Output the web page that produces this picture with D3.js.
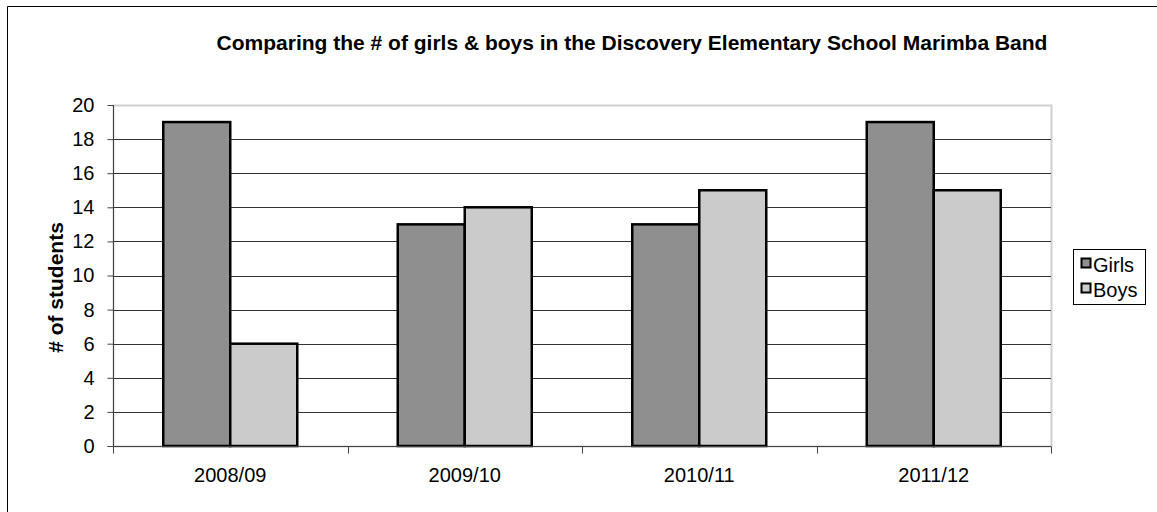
<!DOCTYPE html>
<html>
<head>
<meta charset="utf-8">
<script src="https://cdn.jsdelivr.net/npm/d3@7"></script>
<style>
  html, body { margin: 0; padding: 0; background: #fff; }
  svg { display: block; font-family: "Liberation Sans", Arial, sans-serif; }
</style>
</head>
<body>
<svg id="chart" width="1157" height="512"></svg>
<script>
// Marimba band membership by school year
const years = ["2008/09", "2009/10", "2010/11", "2011/12"];
const seriesNames = ["Girls", "Boys"];
const girls = [19, 13, 13, 19];
const boys = [6, 14, 15, 15];
const yTicks = [0, 2, 4, 6, 8, 10, 12, 14, 16, 18, 20];
const titleText = "Comparing the # of girls & boys in the Discovery Elementary School Marimba Band";
const yLabelText = "# of students";

const colors = { Girls: "#8f8f8f", Boys: "#cbcbcb" };
const valuesBySeries = { Girls: girls, Boys: boys };

const FONT = "'Liberation Sans', Arial, sans-serif";
const svg = d3.select("#chart");
const W = 1157, H = 512;
const plot = { left: 113, top: 105, right: 1051, bottom: 446 };

// chart frame: top and left edges only
svg.append("line").attr("x1", 7.5).attr("x2", W).attr("y1", 6.5).attr("y2", 6.5)
  .attr("stroke", "#000").attr("stroke-width", 1);
svg.append("line").attr("x1", 7.5).attr("x2", 7.5).attr("y1", 6.5).attr("y2", H)
  .attr("stroke", "#000").attr("stroke-width", 1);

const x = d3.scaleBand().domain(years).range([plot.left, plot.right]).paddingInner(0).paddingOuter(0);
const xInner = d3.scaleBand().domain(seriesNames).range([0, x.bandwidth()]).paddingOuter(0.75).paddingInner(0);
const y = d3.scaleLinear().domain([0, 20]).range([plot.bottom, plot.top]);

// plot area outline (light gray)
svg.append("rect")
  .attr("x", plot.left + 0.5).attr("y", plot.top + 0.5)
  .attr("width", plot.right - plot.left).attr("height", plot.bottom - plot.top)
  .attr("fill", "none").attr("stroke", "#cfcfcf").attr("stroke-width", 2);

// horizontal gridlines
svg.append("g").selectAll("line")
  .data(yTicks.filter(t => t > 0 && t < 20))
  .join("line")
  .attr("x1", plot.left).attr("x2", plot.right)
  .attr("y1", d => Math.round(y(d)) + 0.5).attr("y2", d => Math.round(y(d)) + 0.5)
  .attr("stroke", "#333").attr("stroke-width", 1);

// bars
const groups = svg.append("g").selectAll("g")
  .data(years)
  .join("g")
  .attr("transform", d => `translate(${x(d)},0)`);

groups.selectAll("rect")
  .data((d, i) => seriesNames.map(s => ({ s, v: valuesBySeries[s][i] })))
  .join("rect")
  .attr("x", d => xInner(d.s))
  .attr("y", d => y(d.v))
  .attr("width", xInner.bandwidth())
  .attr("height", d => plot.bottom - y(d.v))
  .attr("fill", d => colors[d.s])
  .attr("stroke", "#000")
  .attr("stroke-width", 2.5);

// y axis
const yAxis = d3.axisLeft(y).tickValues(yTicks).tickSize(6).tickPadding(13).tickFormat(d3.format("d"));
const yg = svg.append("g").attr("transform", `translate(${plot.left + 0.5},0)`).call(yAxis);
yg.select(".domain").attr("stroke", "#444").attr("d", `M-6,${plot.bottom + 0.5}H0V${plot.top}`);
yg.selectAll(".tick line").attr("stroke", "#444");
yg.selectAll(".tick text").attr("font-size", 20).attr("fill", "#000").attr("font-family", FONT);

// x axis
const xAxis = d3.axisBottom(x).tickSize(0).tickPadding(21);
const xg = svg.append("g").attr("transform", `translate(0,${plot.bottom + 0.5})`).call(xAxis);
xg.select(".domain").attr("stroke", "#444").attr("d", `M${plot.left},0H${plot.right}`);
xg.selectAll(".tick text").attr("font-size", 20).attr("fill", "#000").attr("font-family", FONT);
// tick marks between categories
const boundaries = years.map(d => x(d)).concat([plot.right]);
xg.append("g").selectAll("line").data(boundaries).join("line")
  .attr("x1", d => Math.round(d) + 0.5).attr("x2", d => Math.round(d) + 0.5)
  .attr("y1", 0).attr("y2", 7).attr("stroke", "#444");

// title
svg.append("text")
  .attr("x", 632).attr("y", 50)
  .attr("text-anchor", "middle")
  .attr("font-size", 21).attr("font-weight", "bold")
  .text(titleText);

// y axis label
svg.append("text")
  .attr("transform", `translate(63,${(plot.top + plot.bottom) / 2 + 12}) rotate(-90)`)
  .attr("text-anchor", "middle")
  .attr("font-size", 21).attr("font-weight", "bold")
  .text(yLabelText);

// legend
const legend = svg.append("g").attr("transform", "translate(1073,249)");
legend.append("rect").attr("x", 0.5).attr("y", 0.5).attr("width", 72).attr("height", 55)
  .attr("fill", "#fff").attr("stroke", "#000").attr("stroke-width", 1);
const items = legend.selectAll("g.item").data(seriesNames).join("g")
  .attr("class", "item")
  .attr("transform", (d, i) => `translate(8,${15 + i * 25})`);
items.append("rect").attr("x", 0.5).attr("y", -5.5).attr("width", 9).attr("height", 9)
  .attr("fill", d => colors[d]).attr("stroke", "#000").attr("stroke-width", 2);
items.append("text").attr("x", 12).attr("y", 8)
  .attr("font-size", 20).text(d => d);
</script>
</body>
</html>
